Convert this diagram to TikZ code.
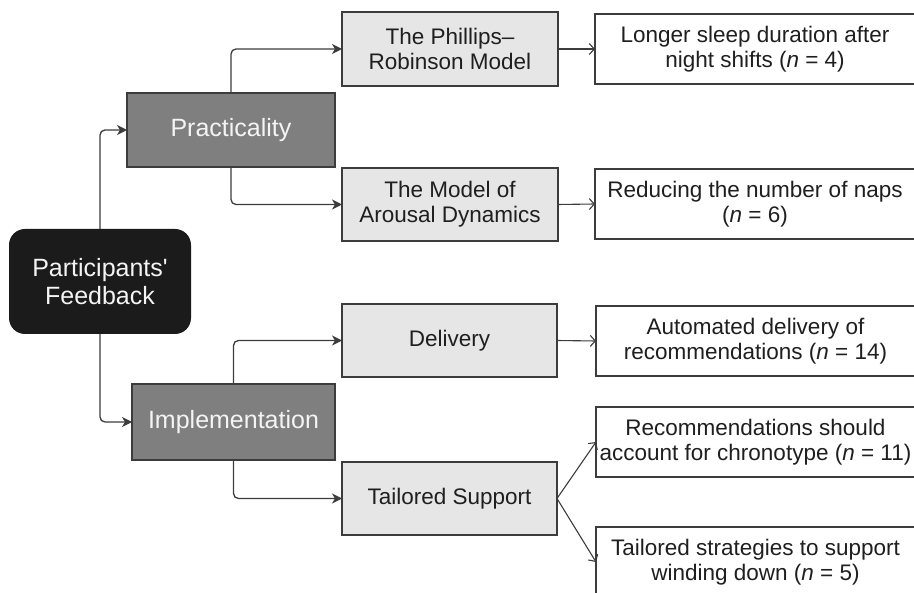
\documentclass[tikz,border=0pt]{standalone}
\usepackage{fontspec}
% plain family without TeX ligature mapping, so ' stays a straight quote
\newfontfamily\diagfont{Liberation Sans}
\usetikzlibrary{arrows.meta}
\definecolor{edge}{HTML}{3C3C3C}
\definecolor{rootfill}{HTML}{1B1B1B}
\definecolor{midfill}{HTML}{7F7F7F}
\definecolor{lightfill}{HTML}{E6E6E6}
\definecolor{labelwhite}{HTML}{F4F4F4}
\tikzset{
  base/.style={draw=edge, line width=1.5pt, align=center, inner sep=0pt, outer sep=0pt},
  rootbox/.style={base, draw=none, fill=rootfill, text=labelwhite, rounded corners=16pt,
    font=\diagfont\fontsize{25}{28}\selectfont},
  themebox/.style={base, fill=midfill, text=labelwhite, font=\diagfont\fontsize{25}{28}\selectfont},
  subbox/.style={base, fill=lightfill, text=black!88, font=\diagfont\fontsize{22.5}{25}\selectfont},
  findbox/.style={base, fill=white, text=black!88, font=\diagfont\fontsize{22.5}{25}\selectfont},
  feed/.style={draw=edge, line width=1.3pt, rounded corners=5pt,
    -{Stealth[length=10pt, width=10pt, inset=3pt]}},
  lead/.style={draw=edge, line width=1.1pt,
    -{Straight Barb[length=5pt, width=11pt]}},
}
\newcommand{\nn}{\textit{n}}
\begin{document}
\begin{tikzpicture}[x=1pt, y=-1pt]
  \useasboundingbox (0,0) rectangle (914,593);
  \clip (0,0) rectangle (914,593);

  % root and the two themes
  \node[rootbox, minimum width=182pt, minimum height=105pt] (root) at (100,281.5)
    {Participants'\\Feedback};
  \node[themebox, minimum width=208pt, minimum height=74pt] (prac) at (231,130) {Practicality};
  \node[themebox, minimum width=203pt, minimum height=76pt] (impl) at (233.5,422) {Implementation};

  % sub-themes
  \node[subbox, minimum width=216pt, minimum height=74pt] (phil) at (450,49)
    {The Phillips–\\Robinson Model};
  \node[subbox, minimum width=216pt, minimum height=73pt] (arou) at (450,204.5)
    {The Model of\\Arousal Dynamics};
  \node[subbox, minimum width=215pt, minimum height=73pt] (deli) at (449.5,340.5) {Delivery};
  \node[subbox, minimum width=215pt, minimum height=73pt] (tail) at (449.5,498.5) {Tailored Support};

  % findings (their right edges run past the frame)
  \node[findbox, minimum width=320pt, minimum height=70pt] (long) at (755,49)
    {Longer sleep duration after\\night shifts (\nn{} = 4)};
  \node[findbox, minimum width=320pt, minimum height=70pt] (redu) at (755,204)
    {Reducing the number of naps\\(\nn{} = 6)};
  \node[findbox, minimum width=319pt, minimum height=70pt] (auto) at (755.5,341)
    {Automated delivery of\\recommendations (\nn{} = 14)};
  \node[findbox, minimum width=319pt, minimum height=70pt] (reco) at (755.5,442)
    {Recommendations should\\account for chronotype (\nn{} = 11)};
  \node[findbox, minimum width=319pt, minimum height=70pt] (tstr) at (755.5,562)
    {Tailored strategies to support\\winding down (\nn{} = 5)};

  % connectors
  \draw[feed] (root.north) |- (prac.west);
  \draw[feed] (root.south) |- (impl.west);
  \draw[feed] (prac.north) |- (phil.west);
  \draw[feed] (prac.south) |- (arou.west);
  \draw[feed] (impl.north) |- (deli.west);
  \draw[feed] (impl.south) |- (tail.west);

  \draw[lead] (phil.east) -- (long.west);
  \draw[lead] (arou.east) -- (redu.west);
  \draw[lead] (deli.east) -- (auto.west);
  \draw[lead] (tail.east) -- (reco.west);
  \draw[lead] (tail.east) -- (tstr.west);
\end{tikzpicture}
\end{document}
